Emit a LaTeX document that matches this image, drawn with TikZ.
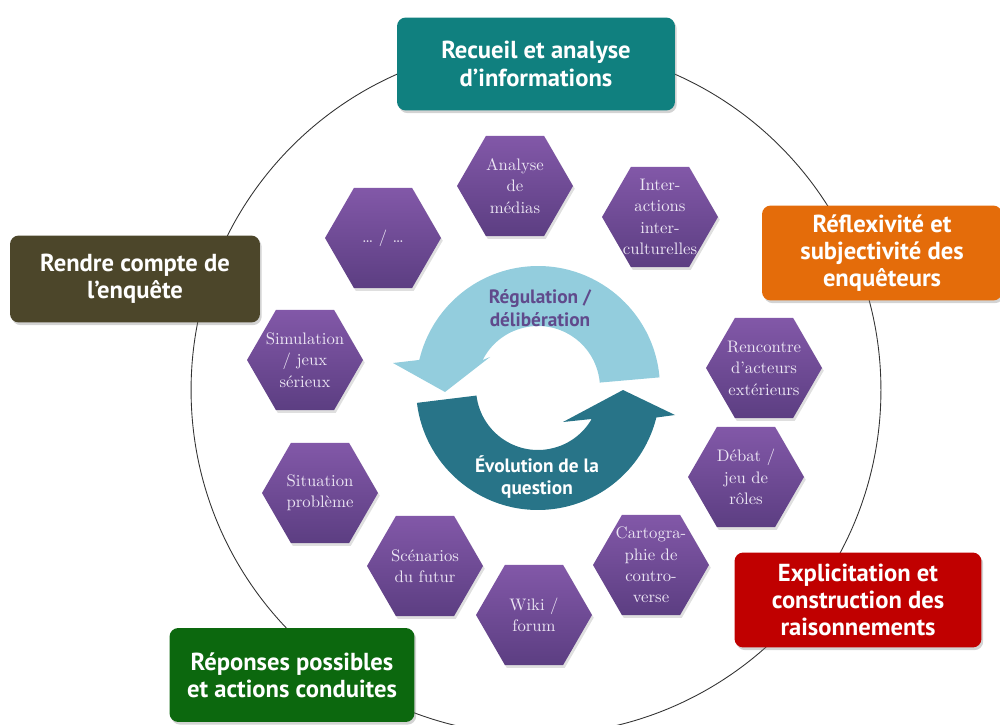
\documentclass[tikz,border=0pt]{standalone}
\usepackage{fontspec}
\setsansfont{PT Sans}
\usepackage{xcolor}
\usepackage{tikz}
\usetikzlibrary{shapes,arrows,positioning,shadows}

\definecolor{recueilc}{RGB}{16,128,127}
\definecolor{reflexc}{RGB}{228,108,10}
\definecolor{rendrec}{RGB}{76,70,42}
\definecolor{explicc}{RGB}{192,0,0}
\definecolor{reponsc}{RGB}{12,104,14}
\definecolor{hextop}{RGB}{130,88,168}
\definecolor{hexbot}{RGB}{92,62,130}
\definecolor{hextext}{RGB}{236,230,244}
\definecolor{regulc}{RGB}{147,205,221}
\definecolor{evolc}{RGB}{40,116,136}
\definecolor{regultext}{RGB}{96,74,140}

\begin{document}
\begin{tikzpicture}[
    x=0.02cm, y=0.02cm,
    box/.style={rectangle, rounded corners=5pt, text=white, align=center, font=\sffamily\bfseries\fontsize{14}{15.5}\selectfont, drop shadow={shadow xshift=1pt, shadow yshift=-1.5pt, opacity=0.35}},
    hexa/.style={regular polygon, regular polygon sides=6, minimum size=2.32cm, inner sep=0pt, top color=hextop, bottom color=hexbot, drop shadow={shadow xshift=1pt, shadow yshift=-1.5pt, opacity=0.25}},
    hexlbl/.style={text=hextext, align=center, font=\fontsize{9.5}{12.2}\selectfont},
    cyclbl/.style={align=center, font=\sffamily\bfseries\fontsize{11}{13}\selectfont}
]
\useasboundingbox (0,0) rectangle (1000,724);

% Outer circle
\coordinate (O) at (536,334);
\draw[black!80, line width=0.5pt] (O) circle[radius=6.9cm];

% Stages
\node[box, fill=recueilc, minimum width=5.56cm, minimum height=1.86cm] (recueil) at (536,660) {Recueil et analyse\\d’informations};
\node[box, fill=reflexc, minimum width=4.8cm, minimum height=1.9cm] (reflex) at (882,471) {Réflexivité et\\subjectivité des\\enquêteurs};
\node[box, fill=rendrec, minimum width=5.0cm, minimum height=1.74cm] (rendre) at (135,445) {Rendre compte de\\l’enquête};
\node[box, fill=explicc, minimum width=4.94cm, minimum height=1.9cm] (explic) at (858,124) {Explicitation et\\construction des\\raisonnements};
\node[box, fill=reponsc, minimum width=4.9cm, minimum height=1.88cm] (repons) at (292,49) {Réponses possibles\\et actions conduites};

% Activities
\node[hexa, label={[hexlbl]center:{Analyse\\de\\médias}}] (medias) at (515,538) {};
\node[hexa, label={[hexlbl]center:{Inter-\\actions\\inter-\\culturelles}}] (inter) at (660,507) {};
\node[hexa, label={[hexlbl]center:{\dots{} / \dots}}] (autres) at (383,486) {};
\node[hexa, label={[hexlbl]center:{Simulation\\/ jeux\\sérieux}}] (simul) at (305,364) {};
\node[hexa, label={[hexlbl]center:{Rencontre\\d’acteurs\\extérieurs}}] (rencontre) at (764,356) {};
\node[hexa, label={[hexlbl]center:{Débat /\\jeu de\\rôles}}] (debat) at (746,247) {};
\node[hexa, label={[hexlbl]center:{Situation\\problème}}] (situation) at (320,231) {};
\node[hexa, label={[hexlbl]center:{Scénarios\\du futur}}] (scenarios) at (425,158) {};
\node[hexa, label={[hexlbl]center:{Cartogra-\\phie de\\contro-\\verse}}] (carto) at (651,159) {};
\node[hexa, label={[hexlbl]center:{Wiki /\\forum}}] (wiki) at (534,109) {};

% Cycle
\coordinate (C) at (538,336);
\fill[regulc] ([shift={(5:2.44cm)}]C) arc[start angle=5, end angle=166.7, radius=2.44cm]
    -- (393,361) -- (445,332) -- (490,367)
    -- ([shift={(153.2:1.24cm)}]C) arc[start angle=153.2, end angle=5, radius=1.24cm] -- cycle;
\fill[evolc] ([shift={(187:2.44cm)}]C) arc[start angle=187, end angle=346, radius=2.44cm]
    -- (675,309) -- (623,334) -- (563,302)
    -- ([shift={(330:1.24cm)}]C) arc[start angle=330, end angle=187, radius=1.24cm] -- cycle;
\node[cyclbl, text=regultext] (regul) at (540,416) {Régulation /\\délibération};
\node[cyclbl, text=white] (evol) at (537,247) {Évolution de la\\question};

\end{tikzpicture}
\end{document}
